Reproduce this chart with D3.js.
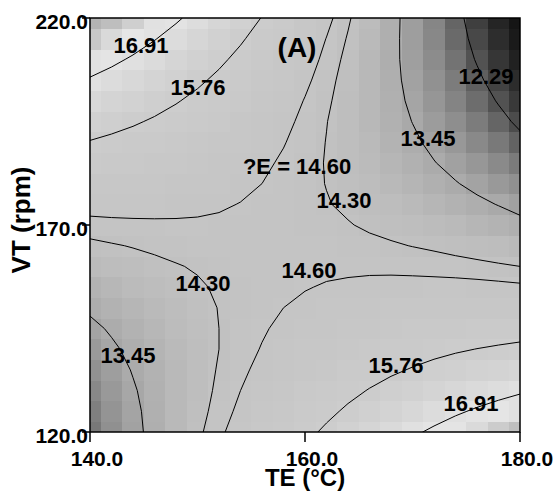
<!DOCTYPE html>
<html><head><meta charset="utf-8">
<script src="https://cdn.jsdelivr.net/npm/d3@7"></script>
<style>
body{margin:0;background:#fff}
svg{display:block}
text{font-family:"Liberation Sans",Arial,Helvetica,sans-serif;font-weight:bold;fill:#000}
</style>
</head><body>
<svg id="chart" width="557" height="492"></svg>
<script>
// ---- data ----
const teValues = [140,142,144,146,148,150,152,154,156,158,160,162,164,166,168,170,172,174,176,178,180];
const vtValues = [120,125,130,135,140,145,150,155,160,165,170,175,180,185,190,195,200,205,210,215,220];
// eGrid[j][i] : value at VT = vtValues[j], TE = teValues[i]
const eGrid = [
[12.65,12.98,13.30,13.61,13.92,14.22,14.52,14.80,15.08,15.35,15.61,15.86,16.11,16.35,16.58,16.81,17.02,17.23,17.43,17.63,17.82],
[12.75,13.05,13.34,13.62,13.90,14.17,14.43,14.69,14.94,15.18,15.41,15.63,15.85,16.06,16.26,16.45,16.64,16.82,16.99,17.15,17.31],
[12.87,13.14,13.40,13.65,13.90,14.14,14.37,14.60,14.81,15.02,15.23,15.42,15.61,15.79,15.96,16.12,16.28,16.43,16.57,16.70,16.83],
[13.00,13.24,13.48,13.70,13.92,14.13,14.33,14.52,14.71,14.89,15.06,15.22,15.38,15.53,15.67,15.80,15.93,16.05,16.16,16.26,16.36],
[13.16,13.37,13.57,13.77,13.95,14.13,14.30,14.47,14.62,14.77,14.91,15.05,15.17,15.29,15.40,15.51,15.60,15.69,15.77,15.84,15.91],
[13.33,13.51,13.69,13.85,14.01,14.16,14.30,14.43,14.56,14.68,14.79,14.89,14.99,15.07,15.15,15.23,15.29,15.35,15.40,15.44,15.48],
[13.53,13.68,13.82,13.95,14.08,14.20,14.31,14.41,14.51,14.60,14.68,14.75,14.82,14.87,14.92,14.97,15.00,15.03,15.05,15.06,15.07],
[13.74,13.86,13.97,14.07,14.17,14.26,14.34,14.41,14.48,14.53,14.58,14.63,14.66,14.69,14.71,14.72,14.73,14.73,14.72,14.70,14.67],
[13.97,14.06,14.14,14.21,14.28,14.33,14.38,14.43,14.46,14.49,14.51,14.52,14.53,14.53,14.52,14.50,14.47,14.44,14.40,14.35,14.30],
[14.21,14.27,14.32,14.37,14.40,14.43,14.45,14.46,14.47,14.47,14.46,14.44,14.41,14.38,14.34,14.29,14.24,14.17,14.10,14.03,13.94],
[14.48,14.51,14.53,14.54,14.55,14.55,14.54,14.52,14.49,14.46,14.42,14.37,14.32,14.25,14.18,14.11,14.02,13.93,13.82,13.72,13.60],
[14.76,14.76,14.75,14.74,14.71,14.68,14.64,14.59,14.54,14.47,14.40,14.32,14.24,14.14,14.04,13.94,13.82,13.70,13.56,13.43,13.28],
[15.07,15.03,14.99,14.95,14.89,14.83,14.76,14.68,14.60,14.50,14.40,14.29,14.18,14.05,13.92,13.78,13.64,13.48,13.32,13.15,12.98],
[15.39,15.32,15.25,15.18,15.09,15.00,14.90,14.79,14.67,14.55,14.42,14.28,14.14,13.98,13.82,13.65,13.47,13.29,13.10,12.90,12.69],
[15.73,15.63,15.53,15.43,15.31,15.19,15.06,14.92,14.77,14.62,14.46,14.29,14.11,13.93,13.74,13.54,13.33,13.12,12.89,12.66,12.43],
[16.08,15.96,15.83,15.69,15.55,15.39,15.23,15.06,14.89,14.70,14.51,14.31,14.11,13.89,13.67,13.44,13.20,12.96,12.71,12.45,12.18],
[16.46,16.31,16.15,15.98,15.80,15.62,15.43,15.23,15.02,14.81,14.58,14.36,14.12,13.87,13.62,13.36,13.09,12.82,12.54,12.25,11.95],
[16.85,16.67,16.48,16.28,16.07,15.86,15.64,15.41,15.17,14.93,14.68,14.42,14.15,13.87,13.59,13.30,13.00,12.70,12.39,12.07,11.74],
[17.27,17.05,16.83,16.60,16.36,16.12,15.87,15.61,15.34,15.07,14.79,14.50,14.20,13.89,13.58,13.26,12.93,12.60,12.25,11.90,11.55],
[17.70,17.45,17.20,16.94,16.67,16.40,16.12,15.83,15.53,15.23,14.91,14.59,14.27,13.93,13.59,13.24,12.88,12.51,12.14,11.76,11.37],
[18.15,17.87,17.59,17.30,17.00,16.70,16.39,16.07,15.74,15.40,15.06,14.71,14.35,13.99,13.61,13.23,12.84,12.45,12.04,11.63,11.22]
];
const contourLevels = [12.29, 13.45, 14.30, 14.60, 15.76, 16.91];
const labelTexts = ["16.91","15.76","?E = 14.60","14.30","12.29","13.45","14.60","14.30","13.45","15.76","16.91"];
const labelTE    = [144.74, 150.05, 159.26, 163.63, 176.84, 171.44, 160.37, 150.51, 143.53, 168.47, 175.44];
const labelVT    = [213.5, 203.3, 184.25, 176.0, 206.0, 191.0, 159.1, 156.0, 138.6, 136.2, 127.0];
const xTickValues = [140, 160, 180];
const yTickValues = [120, 170, 220];
const grayValueStops = [11.2, 11.6, 12.0, 12.29, 12.65, 13.0, 13.45, 14.0, 14.45, 15.0, 15.76, 16.3, 16.91, 17.2, 17.5, 17.8, 18.2];
const grayLevelStops = [20, 35, 60, 85, 120, 145, 170, 188, 196, 199, 204, 212, 226, 230, 214, 192, 178];

// ---- layout ----
const plot = {left: 90, right: 520, top: 18, bottom: 432};
const svg = d3.select("#chart");
svg.append("rect").attr("width", 557).attr("height", 492).attr("fill", "#fff");

const x = d3.scaleLinear().domain([teValues[0], teValues[teValues.length-1]]).range([plot.left, plot.right]);
const y = d3.scaleLinear().domain([vtValues[0], vtValues[vtValues.length-1]]).range([plot.bottom, plot.top]);
const grayScale = d3.scaleLinear().domain(grayValueStops).range(grayLevelStops).clamp(true);
const color = v => { const g = Math.round(grayScale(v)); return d3.rgb(g, g, g).toString(); };

svg.append("clipPath").attr("id", "plotclip").append("rect")
  .attr("x", plot.left).attr("y", plot.top)
  .attr("width", plot.right - plot.left).attr("height", plot.bottom - plot.top);

const nx = teValues.length, ny = vtValues.length;
const hx = (teValues[1] - teValues[0]) / 2, hy = (vtValues[1] - vtValues[0]) / 2;

const cells = [];
eGrid.forEach((row, j) => row.forEach((v, i) => cells.push({te: teValues[i], vt: vtValues[j], v})));

const gHeat = svg.append("g").attr("clip-path", "url(#plotclip)");
gHeat.selectAll("rect").data(cells).join("rect")
  .attr("x", d => x(d.te - hx))
  .attr("y", d => y(d.vt + hy))
  .attr("width", d => x(d.te + hx) - x(d.te - hx) + 0.5)
  .attr("height", d => y(d.vt - hy) - y(d.vt + hy) + 0.5)
  .attr("fill", d => color(d.v))
  .attr("shape-rendering", "crispEdges");

// contours
const gx = d3.scaleLinear().domain([0.5, nx - 0.5]).range([x(teValues[0]), x(teValues[nx-1])]);
const gy = d3.scaleLinear().domain([0.5, ny - 0.5]).range([y(vtValues[0]), y(vtValues[ny-1])]);
const flat = eGrid.flat();
const contours = d3.contours().size([nx, ny]).thresholds(contourLevels)(flat);
const path = d3.geoPath(d3.geoTransform({point(px, py) { this.stream.point(gx(px), gy(py)); }}));
svg.append("g").attr("clip-path", "url(#plotclip)")
  .selectAll("path").data(contours).join("path")
  .attr("d", path).attr("fill", "none").attr("stroke", "#000").attr("stroke-width", 1);

// contour labels
svg.append("g").selectAll("text").data(labelTexts).join("text")
  .attr("x", (d, k) => x(labelTE[k]))
  .attr("y", (d, k) => y(labelVT[k]))
  .attr("dy", "0.36em")
  .attr("text-anchor", "middle")
  .attr("font-size", 22)
  .text(d => d);

// panel label
svg.append("text").attr("x", 297).attr("y", 57).attr("text-anchor", "middle")
  .attr("font-size", 28).text("(A)");

// frame
svg.append("rect").attr("x", plot.left).attr("y", plot.top)
  .attr("width", plot.right - plot.left).attr("height", plot.bottom - plot.top)
  .attr("fill", "none").attr("stroke", "#000").attr("stroke-width", 1.5);

// x ticks
const gxAxis = svg.append("g");
gxAxis.selectAll("line").data(xTickValues).join("line")
  .attr("x1", d => x(d)).attr("x2", d => x(d))
  .attr("y1", plot.bottom).attr("y2", plot.bottom + 10)
  .attr("stroke", "#000").attr("stroke-width", 1.5);
gxAxis.selectAll("text").data(xTickValues).join("text")
  .attr("x", d => x(d) + 7).attr("y", 466)
  .attr("text-anchor", "middle").attr("font-size", 21)
  .text(d => d.toFixed(1));

// y ticks
const gyAxis = svg.append("g");
gyAxis.selectAll("text").data(yTickValues).join("text")
  .attr("x", 88).attr("y", d => y(d) + 10.5)
  .attr("text-anchor", "end").attr("font-size", 21)
  .text(d => d.toFixed(1));
gyAxis.selectAll("line").data(yTickValues).join("line")
  .attr("x1", plot.left - 8).attr("x2", plot.left)
  .attr("y1", d => y(d)).attr("y2", d => y(d))
  .attr("stroke", "#000").attr("stroke-width", 1.5);

// axis titles
svg.append("text").attr("x", 305).attr("y", 486).attr("text-anchor", "middle")
  .attr("font-size", 24).text("TE (°C)");
svg.append("text").attr("transform", "translate(30,220) rotate(-90)")
  .attr("text-anchor", "middle").attr("font-size", 26).text("VT (rpm)");
</script>
</body></html>
